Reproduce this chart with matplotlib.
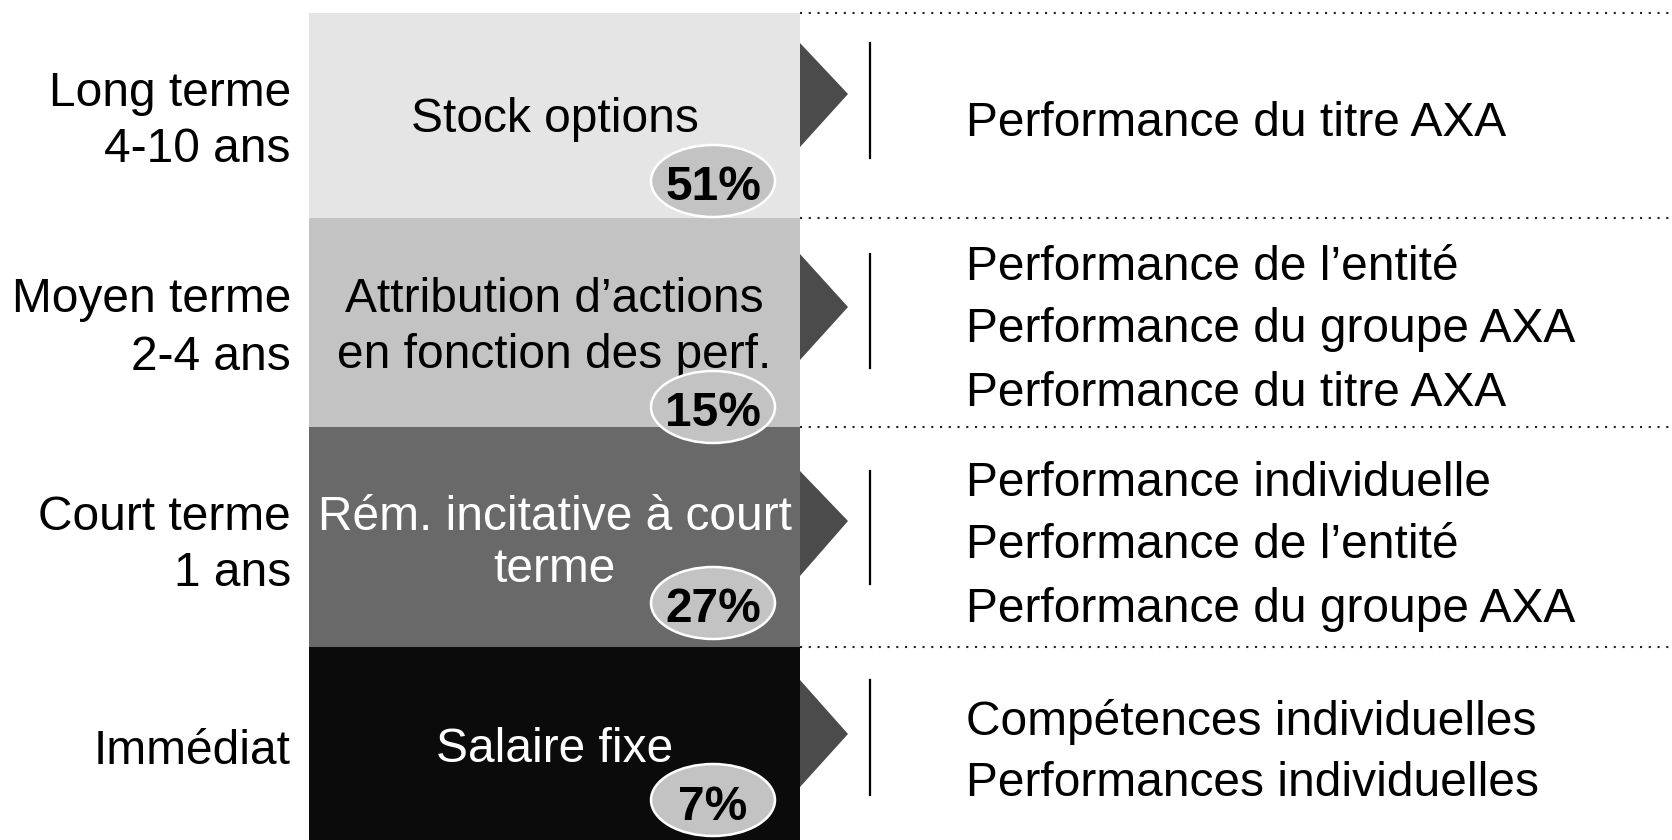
import matplotlib
matplotlib.use("Agg")
import matplotlib.pyplot as plt
from matplotlib.patches import Rectangle, Polygon, Ellipse

plt.rcParams['font.family'] = ['Liberation Sans', 'DejaVu Sans']

# ---- data ----
horizons = [["Long terme", "4-10 ans"], ["Moyen terme", "2-4 ans"],
            ["Court terme", "1 ans"], ["Immédiat"]]
components = [["Stock options"], ["Attribution d\u2019actions", "en fonction des perf."],
              ["Rém. incitative à court", "terme"], ["Salaire fixe"]]
shares = [51, 15, 27, 7]
drivers = [["Performance du titre AXA"],
           ["Performance de l\u2019entité", "Performance du groupe AXA", "Performance du titre AXA"],
           ["Performance individuelle", "Performance de l\u2019entité", "Performance du groupe AXA"],
           ["Compétences individuelles", "Performances individuelles"]]

# ---- layout (pixel space) ----
W, H = 1672, 840
box_x0, box_x1 = 309, 800
bounds = [13, 218, 427, 647, 840]
box_colors = ["#e5e5e5", "#c3c3c3", "#696969", "#0b0b0b"]
text_colors = ["black", "black", "white", "white"]
dy = 5
left_y = [[88, 145], [294, 352], [512, 568], [746]]
comp_y = [[115], [294, 350], [512, 564], [744]]
pct_y = [181, 407, 603, 800]
tri = [(43, 147, 94), (254, 360, 307), (471, 576, 521), (680, 787, 734)]
vline = [(43, 158), (254, 368), (471, 584), (680, 795)]
drv_y = [[119], [262, 325, 388], [478, 541, 604], [717, 778]]

fig = plt.figure(figsize=(W / 100, H / 100), dpi=100)
ax = fig.add_axes([0, 0, 1, 1])
ax.set_xlim(0, W)
ax.set_ylim(H, 0)
ax.axis("off")

fs = 34.5
for i in range(4):
    y0, y1 = bounds[i], bounds[i + 1]
    ax.add_patch(Rectangle((box_x0, y0), box_x1 - box_x0, y1 - y0,
                           facecolor=box_colors[i], edgecolor="none", zorder=1))
    # dotted separator
    ax.plot([box_x1, W], [y0, y0], color="#222222", lw=1.5,
            linestyle=(0, (1, 3.2)), zorder=2)
    # arrow triangle
    ta, tb, tm = tri[i]
    ax.add_patch(Polygon([[box_x1, ta], [848, tm], [box_x1, tb]], closed=True,
                         facecolor="#4b4b4b", edgecolor="none", zorder=3))
    # vertical bar
    va, vb = vline[i]
    ax.plot([870, 870], [va, vb], color="black", lw=1.6, zorder=3)
    # left labels
    for t, y in zip(horizons[i], left_y[i]):
        ax.text(291, y + dy, t, ha="right", va="center", fontsize=fs, color="black")
    # component text
    for t, y in zip(components[i], comp_y[i]):
        ax.text((box_x0 + box_x1) / 2, y + dy, t, ha="center", va="center",
                fontsize=fs, color=text_colors[i], zorder=4)
    # percentage ellipse
    ax.add_patch(Ellipse((713, pct_y[i]), 124, 72, facecolor="#c3c3c3",
                         edgecolor="white", lw=1.8, zorder=5))
    ax.text(713, pct_y[i] + 2 + dy, f"{shares[i]}%", ha="center", va="center",
            fontsize=fs, fontweight="bold", color="black", zorder=6)
    # drivers
    for t, y in zip(drivers[i], drv_y[i]):
        ax.text(966, y + dy, t, ha="left", va="center", fontsize=fs, color="black")

fig.savefig("out.png", dpi=100)
